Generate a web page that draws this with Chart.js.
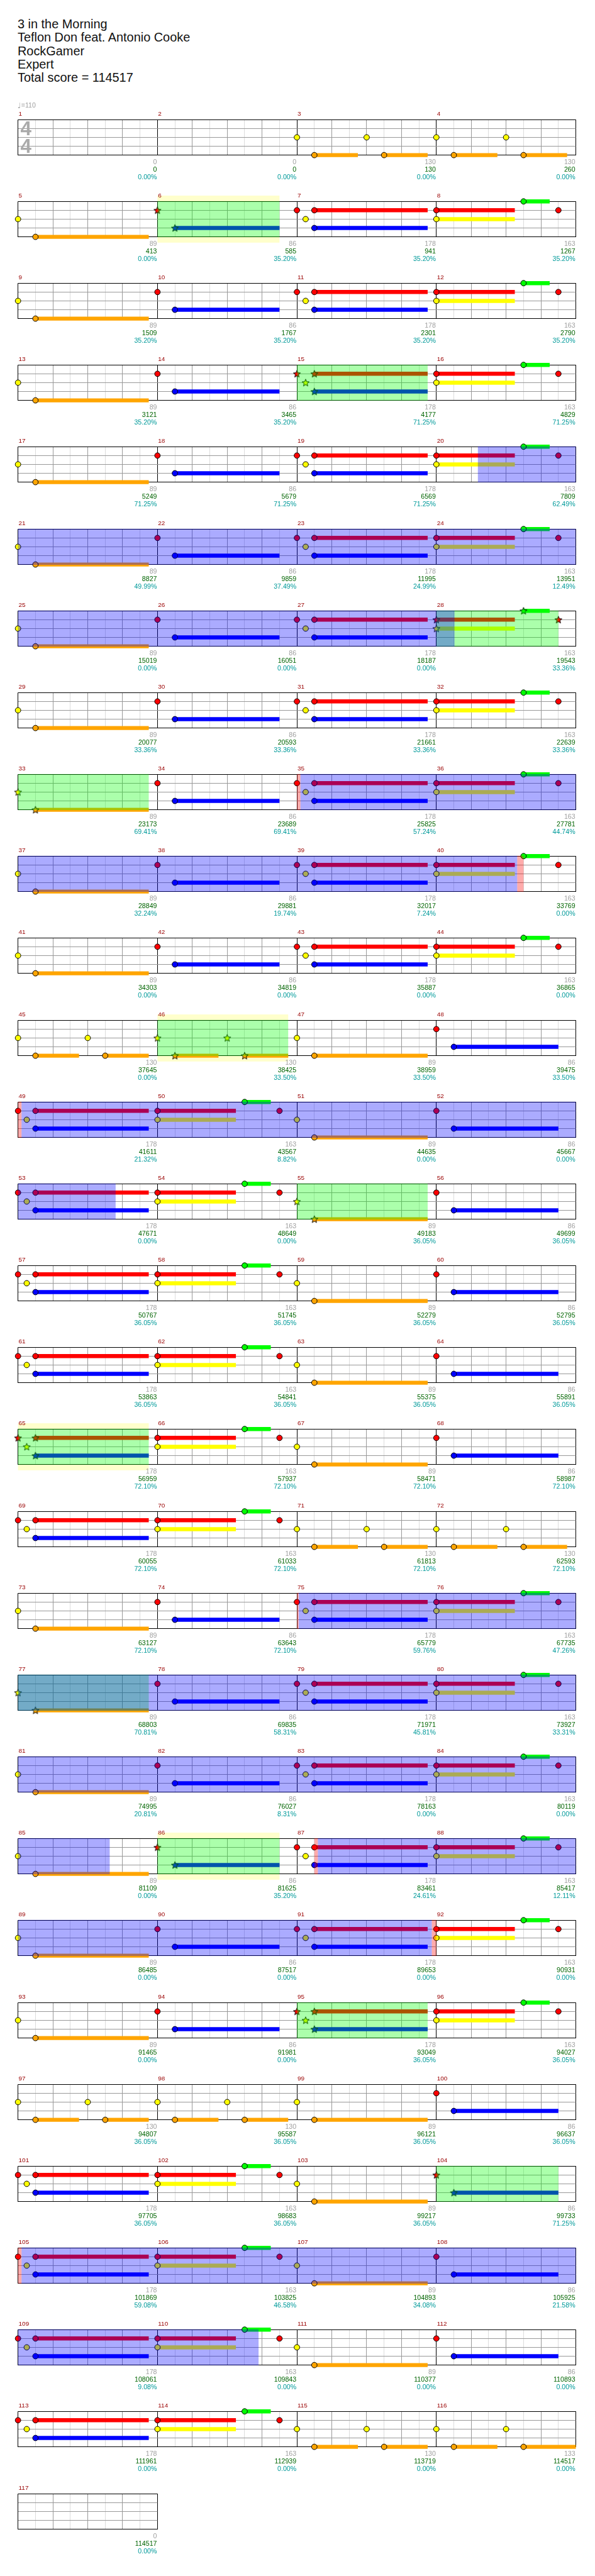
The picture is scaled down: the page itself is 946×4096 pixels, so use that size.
<!DOCTYPE html>
<html>
<head>
<meta charset="utf-8">
<title>3 in the Morning - Expert drums path</title>
<script src="https://cdn.jsdelivr.net/npm/chart.js@4.4.1/dist/chart.umd.min.js"></script>
<style>
  body { margin: 0; background: #fff; }
  #page { position: relative; width: 946px; height: 4096px; overflow: hidden; background: #fff; }
  #header {
    position: absolute; left: 28px; top: 28px;
    font-family: "Liberation Sans", Arial, sans-serif;
    font-size: 19.9px; line-height: 21.25px; color: #111;
  }
  canvas.row { position: absolute; left: 0; }
</style>
</head>
<body>
<div id="page">
  <div id="header">
    <div>3 in the Morning</div>
    <div>Teflon Don feat. Antonio Cooke</div>
    <div>RockGamer</div>
    <div>Expert</div>
    <div>Total score = 114517</div>
  </div>
</div>
<script>
const S = 946 / 1024;

// lanes: 0 green, 1 red, 2 yellow, 3 blue, 4 orange (kick)
const laneColors = ["#00ff00", "#ff0000", "#ffff00", "#0000ff", "#ffa500"];

// notes of the repeating measures: [beat, lane, end of tail or null]
const notesA = [[0, 2, null], [0.5, 4, 3.75]];
const notesB = [[0, 1, null], [0.5, 3, 3.5]];
const notesC = [[0, 1, null], [0.25, 2, null], [0.5, 1, 3.75], [0.5, 3, 3.75]];
const notesD = [[0, 1, 2.25], [0, 2, 2.25], [2.5, 0, 3.25], [3.5, 1, null]];
const notesE = [[0, 2, null], [0.5, 4, 1.75], [2, 2, null], [2.5, 4, 3.75]];
const notesF = [[0, 2, null], [0.5, 4, 1.75], [2, 2, null], [2.5, 4, 4]];
const patternNotes = { "-": [], A: notesA, B: notesB, C: notesC, D: notesD, E: notesE, F: notesF };

// which pattern each measure uses, one string per row of four measures
const rowPatterns = [
  "--EE", "ABCD", "ABCD", "ABCD", "ABCD", "ABCD", "ABCD", "ABCD", "ABCD", "ABCD",
  "ABCD", "EEAB", "CDAB", "CDAB", "CDAB", "CDAB", "CDAB", "CDEE", "ABCD", "ABCD",
  "ABCD", "ABCD", "ABCD", "ABCD", "EEAB", "CDAB", "CDAB", "CDAB", "CDEF", "-"
];

const measureScore = [
  0, 0, 130, 130,   89, 86, 178, 163,   89, 86, 178, 163,   89, 86, 178, 163,
  89, 86, 178, 163,   89, 86, 178, 163,   89, 86, 178, 163,   89, 86, 178, 163,
  89, 86, 178, 163,   89, 86, 178, 163,   89, 86, 178, 163,   130, 130, 89, 86,
  178, 163, 89, 86,   178, 163, 89, 86,   178, 163, 89, 86,   178, 163, 89, 86,
  178, 163, 89, 86,   178, 163, 130, 130,   89, 86, 178, 163,   89, 86, 178, 163,
  89, 86, 178, 163,   89, 86, 178, 163,   89, 86, 178, 163,   89, 86, 178, 163,
  130, 130, 89, 86,   178, 163, 89, 86,   178, 163, 89, 86,   178, 163, 89, 86,
  178, 163, 130, 133,   0
];

const runningTotal = [
  0, 0, 130, 260,   413, 585, 941, 1267,   1509, 1767, 2301, 2790,
  3121, 3465, 4177, 4829,   5249, 5679, 6569, 7809,   8827, 9859, 11995, 13951,
  15019, 16051, 18187, 19543,   20077, 20593, 21661, 22639,   23173, 23689, 25825, 27781,
  28849, 29881, 32017, 33769,   34303, 34819, 35887, 36865,   37645, 38425, 38959, 39475,
  41611, 43567, 44635, 45667,   47671, 48649, 49183, 49699,   50767, 51745, 52279, 52795,
  53863, 54841, 55375, 55891,   56959, 57937, 58471, 58987,   60055, 61033, 61813, 62593,
  63127, 63643, 65779, 67735,   68803, 69835, 71971, 73927,   74995, 76027, 78163, 80119,
  81109, 81625, 83461, 85417,   86485, 87517, 89653, 90931,   91465, 91981, 93049, 94027,
  94807, 95587, 96121, 96637,   97705, 98683, 99217, 99733,   101869, 103825, 104893, 105925,
  108061, 109843, 110377, 110893,   111961, 112939, 113719, 114517,   114517
];

const spMeter = [
  0, 0, 0, 0,   0, 35.20, 35.20, 35.20,   35.20, 35.20, 35.20, 35.20,
  35.20, 35.20, 71.25, 71.25,   71.25, 71.25, 71.25, 62.49,   49.99, 37.49, 24.99, 12.49,
  0, 0, 0, 33.36,   33.36, 33.36, 33.36, 33.36,   69.41, 69.41, 57.24, 44.74,
  32.24, 19.74, 7.24, 0,   0, 0, 0, 0,   0, 33.50, 33.50, 33.50,
  21.32, 8.82, 0, 0,   0, 0, 36.05, 36.05,   36.05, 36.05, 36.05, 36.05,
  36.05, 36.05, 36.05, 36.05,   72.10, 72.10, 72.10, 72.10,   72.10, 72.10, 72.10, 72.10,
  72.10, 72.10, 59.76, 47.26,   70.81, 58.31, 45.81, 33.31,   20.81, 8.31, 0, 0,
  0, 35.20, 24.61, 12.11,   0, 0, 0, 0,   0, 0, 36.05, 36.05,
  36.05, 36.05, 36.05, 36.05,   36.05, 36.05, 36.05, 71.25,   59.08, 46.58, 34.08, 21.58,
  9.08, 0, 0, 0,   0, 0, 0, 0,   0
];

// shaded ranges: [start measure, start beat, end measure, end beat]
const spPhrases = [
  [6, 0, 6, 3.5], [15, 0, 15, 3.75], [28, 0, 28, 3.5], [33, 0, 33, 3.75],
  [46, 0, 46, 3.75], [55, 0, 55, 3.75], [65, 0, 65, 3.75], [77, 0, 77, 3.75],
  [86, 0, 86, 3.5], [95, 0, 95, 3.75], [104, 0, 104, 3.5]
];
const soloSections = [[6, 0, 6, 3.5], [46, 0, 46, 3.75], [65, 0, 65, 3.75], [86, 0, 86, 3.5]];
const activations = [
  [20, 1.19, 28, 0.52], [35, 0.1, 40, 2.32], [49, 0.1, 53, 2.8],
  [75, 0.05, 85, 2.63], [87, 0.6, 91, 3.87], [105, 0.1, 110, 2.9]
];
const activationMarks = [
  [35, 0, 35, 0.1], [40, 2.32, 40, 2.5], [49, 0, 49, 0.1], [75, 0, 75, 0.05],
  [87, 0.5, 87, 0.6], [91, 3.87, 91, 4], [105, 0, 105, 0.1]
];

const totalMeasures = 117;
const tempoLabel = "=110";

// layout, in reference pixels
const STAFF_LEFT = 31, BEAT_W = 60, STAFF_H = 61;
const ROW0_TOP = 205.7, ROW_STEP = 140.9, PAD_TOP = 36;
const ROW_CANVAS_H = 131;
const NUM_FONT = (10.8 * S).toFixed(2) + 'px "Liberation Sans", Arial, sans-serif';
const SCORE_FONT = (11.5 * S).toFixed(2) + 'px "Liberation Sans", Arial, sans-serif';

const globalBeat = (m, b) => (m - 1) * 4 + b;

function isStar(m, beat) {
  const g = globalBeat(m, beat);
  return spPhrases.some(r => g >= globalBeat(r[0], r[1]) - 0.01 && g <= globalBeat(r[2], r[3]) + 0.01);
}

// clip a list of ranges to the beats shown in one row
function rangesInRow(ranges, row, beats) {
  const r0 = row * 16, r1 = r0 + beats;
  const out = [];
  ranges.forEach(r => {
    const a = Math.max(globalBeat(r[0], r[1]), r0);
    const b = Math.min(globalBeat(r[2], r[3]), r1);
    if (b > a) out.push([a - r0, b - r0]);
  });
  return out;
}

function makeStar(color) {
  const r = 6.4 * S, size = Math.ceil(2 * r + 4);
  const c = document.createElement('canvas');
  c.width = c.height = size;
  const g = c.getContext('2d');
  g.translate(size / 2, size / 2 + 0.5);
  g.beginPath();
  for (let i = 0; i < 10; i++) {
    const rad = i % 2 === 0 ? r : r * 0.45;
    const a = -Math.PI / 2 + i * Math.PI / 5;
    g.lineTo(rad * Math.cos(a), rad * Math.sin(a));
  }
  g.closePath();
  g.fillStyle = color;
  g.fill();
  g.strokeStyle = '#000';
  g.lineWidth = 1;
  g.stroke();
  return c;
}
const starImages = laneColors.map(makeStar);

// baseline that puts the middle of the digits on y
const capBase = (y, size) => y + 0.358 * size;

const rowDecor = {
  id: 'rowDecor',
  beforeDraw(chart) {
    const {ctx, chartArea: a} = chart;
    const xs = chart.scales.x;
    const {row, beats} = chart.options.plugins.rowDecor;
    ctx.save();
    ctx.fillStyle = 'rgba(255,255,0,0.2)';
    rangesInRow(soloSections, row, beats).forEach(([b0, b1]) => {
      const x0 = xs.getPixelForValue(b0), x1 = xs.getPixelForValue(b1);
      ctx.fillRect(x0, a.top - 10 * S, x1 - x0, 10 * S);
      ctx.fillRect(x0, a.bottom, x1 - x0, 10 * S);
    });
    ctx.restore();
  },
  afterDatasetsDraw(chart) {
    const {ctx, chartArea: a} = chart;
    const xs = chart.scales.x;
    const {row, beats} = chart.options.plugins.rowDecor;
    const shade = (ranges, color) => {
      ctx.fillStyle = color;
      rangesInRow(ranges, row, beats).forEach(([b0, b1]) => {
        const x0 = xs.getPixelForValue(b0), x1 = xs.getPixelForValue(b1);
        ctx.fillRect(x0, a.top - 0.5, x1 - x0, a.bottom - a.top + 1);
      });
    };
    ctx.save();
    shade(spPhrases, 'rgba(0,255,0,0.33)');
    shade(activations, 'rgba(0,0,255,0.33)');
    shade(activationMarks, 'rgba(255,0,0,0.33)');
    ctx.restore();
  },
  afterDraw(chart) {
    const {ctx, chartArea: a} = chart;
    const xs = chart.scales.x;
    const {row, beats} = chart.options.plugins.rowDecor;
    const first = row * 4 + 1;
    ctx.save();
    for (let k = 0; k < beats / 4; k++) {
      const m = first + k;
      ctx.font = NUM_FONT;
      ctx.textAlign = 'left';
      ctx.fillStyle = '#990000';
      ctx.fillText(String(m), xs.getPixelForValue(k * 4) + 1 * S, capBase(a.top - 11 * S, 10.8 * S));

      const xr = xs.getPixelForValue(k * 4 + 4) - 1 * S;
      ctx.font = SCORE_FONT;
      ctx.textAlign = 'right';
      ctx.fillStyle = '#a0a0a0';
      ctx.fillText(String(measureScore[m - 1]), xr, capBase(a.bottom + 11.7 * S, 11.5 * S));
      ctx.fillStyle = '#006400';
      ctx.fillText(String(runningTotal[m - 1]), xr, capBase(a.bottom + 24.5 * S, 11.5 * S));
      ctx.fillStyle = '#009a9a';
      ctx.fillText(spMeter[m - 1].toFixed(2) + '%', xr, capBase(a.bottom + 37.9 * S, 11.5 * S));
    }
    if (row === 0) {
      // time signature
      ctx.font = 'bold ' + (34 * S).toFixed(2) + 'px "Liberation Sans", Arial, sans-serif';
      ctx.textAlign = 'center';
      ctx.fillStyle = '#aaaaaa';
      const cx = a.left + 13.5 * S;
      ctx.fillText('4', cx, capBase(a.top + 15 * S, 34 * S));
      ctx.fillText('4', cx, capBase(a.top + 45 * S, 34 * S));
      // tempo
      ctx.textAlign = 'left';
      ctx.fillStyle = '#a0a0a0';
      ctx.font = (13 * S).toFixed(2) + 'px "DejaVu Sans", sans-serif';
      const ty = capBase(a.top - 24.7 * S, 11.5 * S);
      ctx.fillText('\u2669', a.left - 1 * S, ty + 1);
      ctx.font = SCORE_FONT;
      ctx.fillText(tempoLabel, a.left + 5.5 * S, ty);
    }
    ctx.restore();
  }
};

function drawRow(row) {
  const first = row * 4 + 1;
  const count = Math.min(4, totalMeasures - first + 1);
  const beats = count * 4;
  const page = document.getElementById('page');
  const canvas = document.createElement('canvas');
  canvas.className = 'row';
  canvas.width = 946;
  canvas.height = ROW_CANVAS_H;
  canvas.style.width = '946px';
  canvas.style.height = ROW_CANVAS_H + 'px';
  canvas.style.top = Math.round((ROW0_TOP - PAD_TOP + ROW_STEP * row) * S) + 'px';
  page.appendChild(canvas);

  const noteData = laneColors.map(() => []);
  const tailData = laneColors.map(() => []);
  for (let k = 0; k < count; k++) {
    const m = first + k;
    patternNotes[rowPatterns[row][k]].forEach(([beat, lane, end]) => {
      noteData[lane].push({x: k * 4 + beat, y: lane, star: isStar(m, beat)});
      if (end !== null) {
        tailData[lane].push({x: k * 4 + beat, y: lane}, {x: k * 4 + end, y: lane}, {x: k * 4 + end, y: null});
      }
    });
  }

  const datasets = [];
  laneColors.forEach((col, lane) => {
    datasets.push({
      data: tailData[lane], showLine: true, borderColor: col, borderWidth: 7 * S,
      borderCapStyle: 'butt', pointRadius: 0, spanGaps: false, order: 2, clip: false
    });
  });
  laneColors.forEach((col, lane) => {
    datasets.push({
      data: noteData[lane], backgroundColor: col, borderColor: '#000', borderWidth: 1,
      pointRadius: 4.4,
      pointStyle: c => (c.raw && c.raw.star) ? starImages[lane] : 'circle',
      order: 1, clip: false
    });
  });

  const xTicks = [];
  for (let v = 0; v <= beats; v += 0.5) xTicks.push({value: v});
  const yTicks = [0, 1, 2, 3, 4].map(v => ({value: v}));

  new Chart(canvas, {
    type: 'scatter',
    data: {datasets},
    plugins: [rowDecor],
    options: {
      responsive: false,
      animation: false,
      devicePixelRatio: 1,
      events: [],
      layout: {
        padding: {
          left: STAFF_LEFT * S,
          right: 946 - (STAFF_LEFT + beats * BEAT_W) * S,
          top: PAD_TOP * S,
          bottom: ROW_CANVAS_H - (PAD_TOP + STAFF_H) * S
        }
      },
      plugins: {
        legend: {display: false},
        tooltip: {enabled: false},
        rowDecor: {row, beats}
      },
      scales: {
        x: {
          type: 'linear', min: 0, max: beats,
          afterBuildTicks: sc => { sc.ticks = xTicks; },
          ticks: {display: false},
          border: {display: false},
          grid: {
            drawTicks: false, lineWidth: 1,
            color: c => {
              const v = c.tick.value;
              if (v % 4 === 0) return '#000';
              return Number.isInteger(v) ? '#999' : '#dcdcdc';
            }
          }
        },
        y: {
          type: 'linear', min: 0, max: 4, reverse: true,
          afterBuildTicks: sc => { sc.ticks = yTicks; },
          ticks: {display: false},
          border: {display: false},
          grid: {
            drawTicks: false, lineWidth: 1,
            color: c => (c.tick.value === 0 || c.tick.value === 4) ? '#000' : '#999'
          }
        }
      }
    }
  });
}

for (let row = 0; row < rowPatterns.length; row++) drawRow(row);
</script>
</body>
</html>
